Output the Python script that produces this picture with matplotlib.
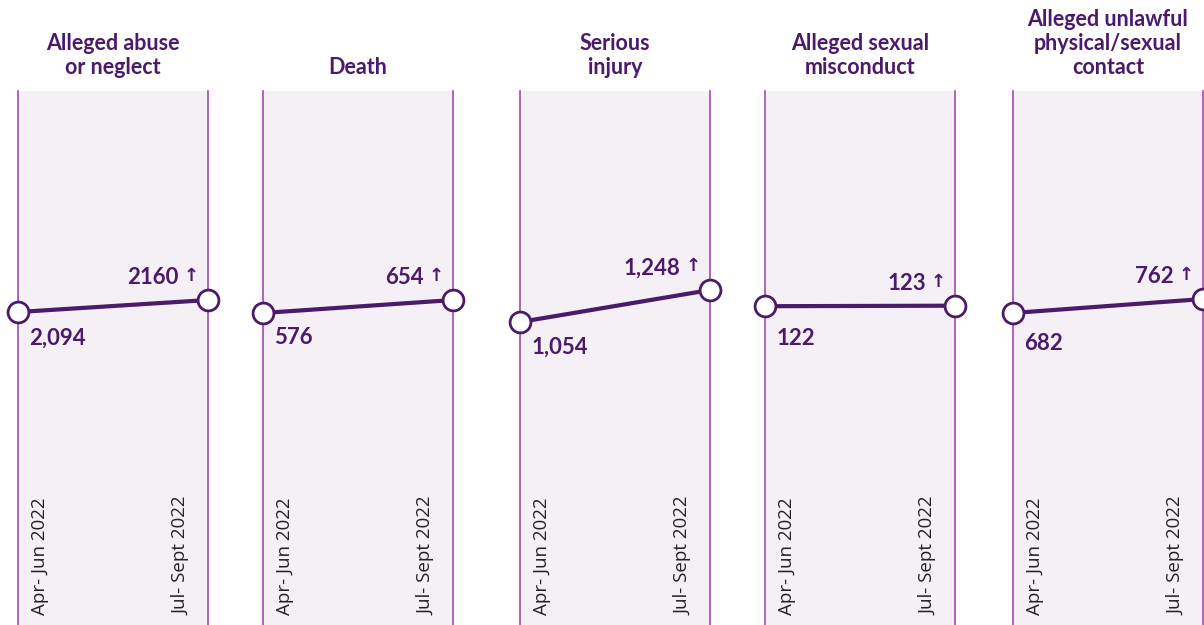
import matplotlib.pyplot as plt

# Dados
categorias = ['Alleged abuse\nor neglect', 'Death', 'Serious\ninjury',
              'Alleged sexual\nmisconduct', 'Alleged unlawful\nphysical/sexual\ncontact']
antes = [2094, 576, 1054, 122, 682]
depois = [2160, 654, 1248, 123, 762]
rotulos_antes = ['2,094', '576', '1,054', '122', '682']
rotulos_depois = ['2160', '654', '1,248', '123', '762']
periodos = ['Apr- Jun 2022', 'Jul- Sept 2022']
# escala vertical de cada painel (cada um tem a sua)
limites_y = [(372, 3310), (-1296, 1908), (-782, 2454), (-515, 552), (-1100, 1950)]

roxo = '#4b1a6a'
roxo_claro = '#a34bb0'
fundo = '#f5f0f6'

W, H = 1204, 625
fig = plt.figure(figsize=(W / 100, H / 100), dpi=100)
plt.rcParams['font.family'] = ['Lato', 'DejaVu Sans']

esquerdas = [18, 263, 520, 765, 1013]
largura = 190
topo = 91
desloc_antes = [-19, -18, -18, -23, -22]  # ajuste vertical do rótulo da esquerda (pt)

for i in range(len(categorias)):
    ax = fig.add_axes([esquerdas[i] / W, 0, largura / W, (H - topo) / H])
    ax.set_facecolor(fundo)
    for lado in ['top', 'bottom']:
        ax.spines[lado].set_visible(False)
    for lado in ['left', 'right']:
        ax.spines[lado].set_color(roxo_claro)
        ax.spines[lado].set_linewidth(1.2)
    ax.set_xticks([])
    ax.set_yticks([])
    ax.set_xlim(0, 1)
    ax.set_ylim(*limites_y[i])

    ax.plot([0, 1], [antes[i], depois[i]], color=roxo, lw=3, marker='o', ms=15,
            mfc='white', mec=roxo, mew=2, clip_on=False, zorder=5)

    # valores
    ax.annotate(rotulos_antes[i], xy=(0, antes[i]), xytext=(8, desloc_antes[i]),
                textcoords='offset points', ha='left', va='center', fontsize=16,
                fontweight='bold', color=roxo)
    ax.annotate(rotulos_depois[i], xy=(1, depois[i]), xytext=(-21, 16), textcoords='offset points',
                ha='right', va='center', fontsize=16, fontweight='bold', color=roxo)
    ax.annotate('↑', xy=(1, depois[i]), xytext=(-12, 17), textcoords='offset points',
                ha='center', va='center', fontsize=13, fontweight='bold', color=roxo,
                family='DejaVu Sans')

    # título
    ax.annotate(categorias[i], xy=(0.5, 1), xycoords='axes fraction', xytext=(0, 9),
                textcoords='offset points', ha='center', va='bottom', fontsize=15.5,
                fontweight='bold', color=roxo, linespacing=1.2)

    # períodos
    ax.annotate(periodos[0], xy=(0, 0), xycoords='axes fraction', xytext=(16, 7),
                textcoords='offset points', rotation=90, ha='center', va='bottom',
                fontsize=13.5, color='#222222', family='Open Sans')
    ax.annotate(periodos[1], xy=(1, 0), xycoords='axes fraction', xytext=(-19, 7),
                textcoords='offset points', rotation=90, ha='center', va='bottom',
                fontsize=13.5, color='#222222', family='Open Sans')

plt.savefig('out.png', dpi=100)
